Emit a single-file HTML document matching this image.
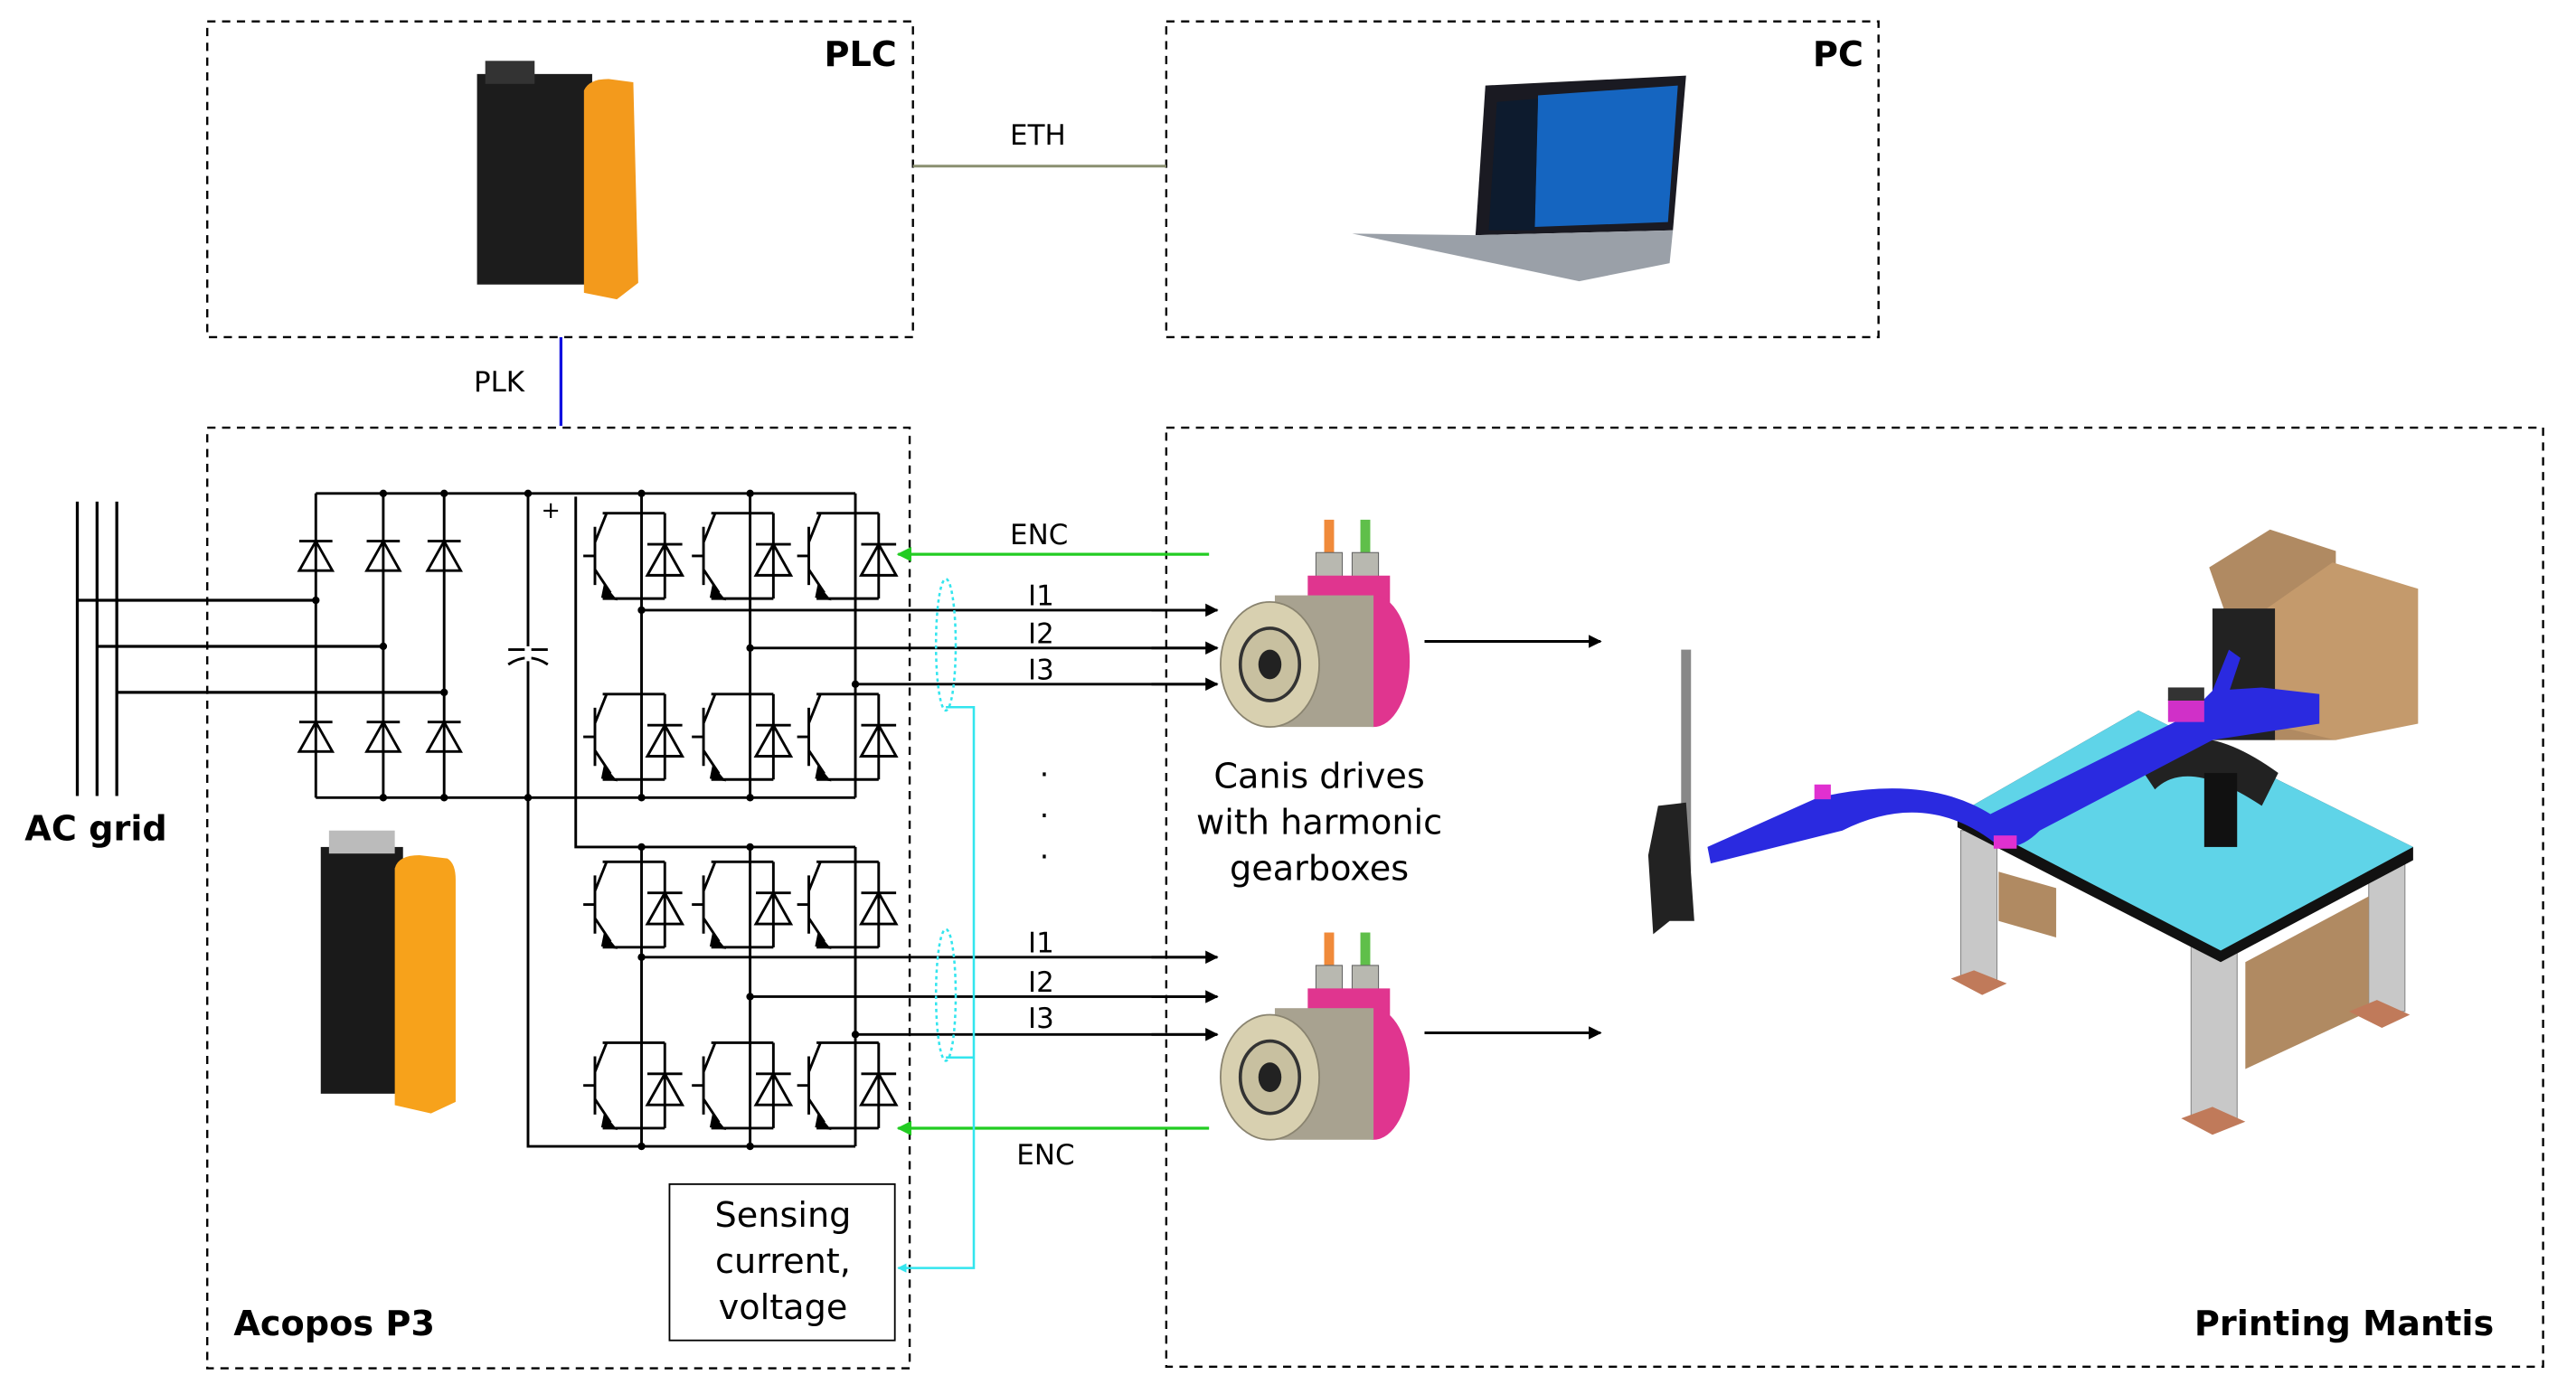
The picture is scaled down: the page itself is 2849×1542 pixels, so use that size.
<!DOCTYPE html>
<html><head><meta charset="utf-8"><style>
html,body{margin:0;padding:0;background:#fff}
svg{display:block}
text{font-family:"DejaVu Sans","Liberation Sans",sans-serif;fill:#000}
</style></head><body>
<svg width="2849" height="1542" viewBox="0 0 1566 847.6" preserveAspectRatio="none" xmlns="http://www.w3.org/2000/svg">
<defs>
<marker id="ab" viewBox="0 0 10 10" refX="9" refY="5" markerWidth="5" markerHeight="5" orient="auto"><path d="M0,0 L10,5 L0,10 Z" fill="#000"/></marker>
<marker id="ag" viewBox="0 0 10 10" refX="9" refY="5" markerWidth="5" markerHeight="5" orient="auto"><path d="M0,0 L10,5 L0,10 Z" fill="#22cc22"/></marker>
<marker id="ac" viewBox="0 0 10 10" refX="9" refY="5" markerWidth="4" markerHeight="4" orient="auto"><path d="M0,0 L10,5 L0,10 Z" fill="#33e5ee"/></marker>
<g id="igbt" fill="none" stroke="#000" stroke-width="1.35" transform="scale(1.18)">
<path d="M-20,-22 H12 M-20,22 H12"/>
<path d="M-30,0 H-24 M-24,-15 V15 M-24,-7 L-18,-22 M-24,7 L-16,19"/>
<path d="M-19,16 L-14,22 L-20,21 Z" fill="#000"/>
<path d="M12,-22 V22 M3,-6 H21 M3,10 L21,10 L12,-6 Z"/>
</g>
<g id="dio" fill="none" stroke="#000" stroke-width="1.4" transform="scale(1.12)">
<path d="M-9,-8 H9 M-9,8 L9,8 L0,-8 Z"/>
</g>
<g id="motor">
<rect x="805" y="316" width="6" height="24" fill="#f08a3a"/>
<rect x="827" y="316" width="6" height="24" fill="#5fbf4a"/>
<rect x="800" y="336" width="16" height="18" fill="#b8b8b0" stroke="#666" stroke-width="0.6"/>
<rect x="822" y="336" width="16" height="18" fill="#b8b8b0" stroke="#666" stroke-width="0.6"/>
<rect x="795" y="350" width="50" height="18" fill="#e0358f"/>
<ellipse cx="835" cy="402" rx="22" ry="40" fill="#e0358f"/>
<rect x="775" y="362" width="60" height="80" fill="#a8a290"/>
<ellipse cx="772" cy="404" rx="30" ry="38" fill="#d8d0b0" stroke="#8a8470" stroke-width="1"/>
<ellipse cx="772" cy="404" rx="18" ry="22" fill="#c8c0a0" stroke="#333" stroke-width="2"/>
<ellipse cx="772" cy="404" rx="7" ry="9" fill="#222"/>
</g>
</defs>

<g fill="none" stroke="#000" stroke-width="1.3" stroke-dasharray="5,4">
<rect x="126" y="13" width="429" height="192"/>
<rect x="709" y="13" width="433" height="192"/>
<rect x="126" y="260" width="427" height="572"/>
<rect x="709" y="260" width="837" height="571"/>
</g>
<text x="501" y="40" font-size="21" font-weight="bold">PLC</text>
<text x="1102" y="40" font-size="21" font-weight="bold">PC</text>
<text x="142" y="812" font-size="21" font-weight="bold">Acopos P3</text>
<text x="1334" y="812" font-size="21" font-weight="bold">Printing Mantis</text>
<text x="15" y="511" font-size="21" font-weight="bold">AC grid</text>

<line x1="555" y1="101" x2="709" y2="101" stroke="#8a8f70" stroke-width="1.6"/>
<text x="614" y="88" font-size="17">ETH</text>
<line x1="341" y1="205" x2="341" y2="259" stroke="#1010e0" stroke-width="1.8"/>
<text x="288" y="238" font-size="17">PLK</text>

<rect x="290" y="45" width="70" height="128" fill="#1c1c1c"/>
<rect x="295" y="37" width="30" height="14" fill="#333"/>
<path d="M355,55 Q358,48 370,48 L385,50 L388,172 L375,182 L355,178 Z" fill="#f39a1c"/>
<path d="M903,52 L1025,46 L1017,140 L897,143 Z" fill="#1a1a22"/>
<path d="M935,58 L1020,52 L1014,135 L933,138 Z" fill="#1565c0"/>
<path d="M910,62 L935,60 L933,140 L905,140 Z" fill="#0d1b2e"/>
<path d="M897,143 L1017,140 L1015,160 L960,171 L822,142 Z" fill="#9aa0a8"/>

<g stroke="#000" stroke-width="1.8" fill="none">
<path d="M47,305 V484 M59,305 V484 M71,305 V484"/>
<path d="M47,365 H192 M59,393 H233 M71,421 H270"/>
</g>
<g stroke="#000" stroke-width="1.6" fill="none">
<path d="M192,300 H520 M192,485 H520 M192,300 V485 M233,300 V485 M270,300 V485"/>
<path d="M321,300 V697 H520"/>
<path d="M309,395 H333 M309,404 Q321,396 333,404"/>
<path d="M350,302 V515 H520"/>
</g>
<rect x="319" y="393" width="4" height="9" fill="#fff"/>
<text x="329" y="315" font-size="14">+</text>
<use href="#dio" x="192" y="338"/><use href="#dio" x="233" y="338"/><use href="#dio" x="270" y="338"/>
<use href="#dio" x="192" y="448"/><use href="#dio" x="233" y="448"/><use href="#dio" x="270" y="448"/>
<g fill="#000">
<circle cx="233" cy="300" r="2.3"/><circle cx="270" cy="300" r="2.3"/><circle cx="321" cy="300" r="2.3"/>
<circle cx="233" cy="485" r="2.3"/><circle cx="270" cy="485" r="2.3"/><circle cx="321" cy="485" r="2.3"/>
<circle cx="192" cy="365" r="2.3"/><circle cx="233" cy="393" r="2.3"/><circle cx="270" cy="421" r="2.3"/>
</g>
<g stroke="#000" stroke-width="1.6" fill="none">
<path d="M390,300 V485 M456,300 V485 M520,300 V485"/>
<path d="M390,371 H740 M456,394 H740 M520,416 H740" />
<path d="M390,515 V697 M456,515 V697 M520,515 V697"/>
<path d="M390,582 H740 M456,606 H740 M520,629 H740"/>
</g>
<g stroke="#000" stroke-width="1.6">
<line x1="700" y1="371" x2="740" y2="371" marker-end="url(#ab)"/>
<line x1="700" y1="394" x2="740" y2="394" marker-end="url(#ab)"/>
<line x1="700" y1="416" x2="740" y2="416" marker-end="url(#ab)"/>
<line x1="700" y1="582" x2="740" y2="582" marker-end="url(#ab)"/>
<line x1="700" y1="606" x2="740" y2="606" marker-end="url(#ab)"/>
<line x1="700" y1="629" x2="740" y2="629" marker-end="url(#ab)"/>
<line x1="866" y1="390" x2="973" y2="390" marker-end="url(#ab)"/>
<line x1="866" y1="628" x2="973" y2="628" marker-end="url(#ab)"/>
</g>
<g fill="#000">
<circle cx="390" cy="300" r="2.3"/><circle cx="456" cy="300" r="2.3"/>
<circle cx="390" cy="485" r="2.3"/><circle cx="456" cy="485" r="2.3"/>
<circle cx="390" cy="371" r="2.3"/><circle cx="456" cy="394" r="2.3"/><circle cx="520" cy="416" r="2.3"/>
<circle cx="390" cy="515" r="2.3"/><circle cx="456" cy="515" r="2.3"/>
<circle cx="390" cy="697" r="2.3"/><circle cx="456" cy="697" r="2.3"/>
<circle cx="390" cy="582" r="2.3"/><circle cx="456" cy="606" r="2.3"/><circle cx="520" cy="629" r="2.3"/>
</g>
<use href="#igbt" x="390" y="338"/><use href="#igbt" x="456" y="338"/><use href="#igbt" x="520" y="338"/>
<use href="#igbt" x="390" y="448"/><use href="#igbt" x="456" y="448"/><use href="#igbt" x="520" y="448"/>
<use href="#igbt" x="390" y="550"/><use href="#igbt" x="456" y="550"/><use href="#igbt" x="520" y="550"/>
<use href="#igbt" x="390" y="660"/><use href="#igbt" x="456" y="660"/><use href="#igbt" x="520" y="660"/>

<g font-size="17" font-family="Liberation Serif">
<text x="625" y="368">I1</text><text x="625" y="391">I2</text><text x="625" y="413">I3</text>
<text x="625" y="579">I1</text><text x="625" y="603">I2</text><text x="625" y="625">I3</text>
</g>
<text x="632" y="472" font-size="18">.</text><text x="632" y="497" font-size="18">.</text><text x="632" y="522" font-size="18">.</text>

<line x1="735" y1="337" x2="546" y2="337" stroke="#22cc22" stroke-width="1.8" marker-end="url(#ag)"/>
<line x1="735" y1="686" x2="546" y2="686" stroke="#22cc22" stroke-width="1.8" marker-end="url(#ag)"/>
<text x="614" y="331" font-size="17">ENC</text>
<text x="618" y="708" font-size="17">ENC</text>

<g fill="none" stroke="#33e5ee" stroke-width="1.4">
<ellipse cx="575" cy="392" rx="6" ry="40" stroke-dasharray="2,2"/>
<ellipse cx="575" cy="605" rx="6" ry="40" stroke-dasharray="2,2"/>
<path d="M575,430 H592 V771 H546" marker-end="url(#ac)"/>
<path d="M575,643 H592"/>
</g>
<rect x="407" y="720" width="137" height="95" fill="#fff" stroke="#000" stroke-width="1"/>
<g font-size="21" text-anchor="middle">
<text x="476" y="746">Sensing</text><text x="476" y="774">current,</text><text x="476" y="802">voltage</text>
</g>

<rect x="195" y="515" width="50" height="150" fill="#1a1a1a"/>
<rect x="200" y="505" width="40" height="14" fill="#bbb"/>
<path d="M240,528 Q242,520 255,520 L272,522 Q277,525 277,535 L277,670 L262,677 L240,672 Z" fill="#f7a21b"/>

<use href="#motor"/>
<use href="#motor" y="251"/>
<g font-size="21" text-anchor="middle">
<text x="802" y="479">Canis drives</text><text x="802" y="507">with harmonic</text><text x="802" y="535">gearboxes</text>
</g>

<g>
<rect x="1192" y="505" width="22" height="92" fill="#c8c8c8" stroke="#888" stroke-width="0.6"/>
<rect x="1440" y="520" width="22" height="95" fill="#c8c8c8" stroke="#888" stroke-width="0.6"/>
<rect x="1332" y="575" width="28" height="105" fill="#c8c8c8" stroke="#888" stroke-width="0.6"/>
<path d="M1365,585 L1440,545 L1440,615 L1365,650 Z" fill="#b08a62"/>
<path d="M1215,530 L1250,540 L1250,570 L1215,560 Z" fill="#b08a62"/>
<path d="M1186,595 L1200,590 L1220,598 L1205,605 Z" fill="#c07a5a"/>
<path d="M1326,680 L1345,673 L1365,682 L1345,690 Z" fill="#c07a5a"/>
<path d="M1428,615 L1445,608 L1465,617 L1448,625 Z" fill="#c07a5a"/>
<path d="M1190,495 L1300,432 L1467,515 L1467,523 L1350,585 L1190,503 Z" fill="#111"/>
<path d="M1190,495 L1300,432 L1467,515 L1350,578 Z" fill="#5fd4e8"/>
<path d="M1343,345 L1380,322 L1420,335 L1420,450 L1380,450 Z" fill="#b08a62"/>
<path d="M1378,370 L1418,342 L1470,358 L1470,440 L1420,450 L1378,440 Z" fill="#c49a6c"/>
<rect x="1345" y="370" width="38" height="80" fill="#222"/>
<path d="M1300,465 Q1330,430 1385,470 L1375,490 Q1330,460 1310,480 Z" fill="#222"/>
<rect x="1340" y="470" width="20" height="45" fill="#111"/>
<path d="M1038,515 L1105,485 Q1170,470 1210,495 L1330,435 L1345,420 L1375,418 L1410,422 L1410,440 L1345,450 L1240,505 Q1225,520 1212,512 Q1170,480 1120,505 L1040,525 Z" fill="#2a2ae0"/>
<path d="M1345,420 L1355,395 L1362,400 L1352,430 Z" fill="#2a2ae0"/>
<rect x="1318" y="425" width="22" height="14" fill="#d030c8"/>
<rect x="1318" y="418" width="22" height="8" fill="#333"/>
<rect x="1103" y="477" width="10" height="9" fill="#e030d0"/>
<rect x="1212" y="508" width="14" height="8" fill="#e030d0"/>
<rect x="1022" y="395" width="6" height="135" fill="#888"/>
<path d="M1008,490 L1025,488 L1030,560 L1015,560 L1005,568 L1002,520 Z" fill="#222"/>
</g>
</svg>
</body></html>
